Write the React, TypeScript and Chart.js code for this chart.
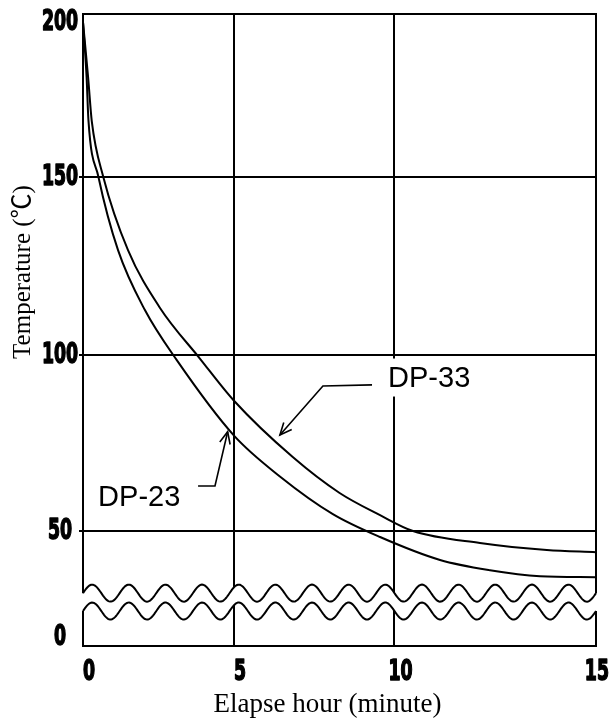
import React, { useEffect, useRef } from 'react';
import { Chart, registerables, LinearScale } from 'chart.js';

// ---- data ----
const X_TICKS = [0, 5, 10, 15];
const Y_TICKS = [0, 50, 100, 150, 200];

const DP33_X = [0, 0.17, 0.29, 0.67, 1.49, 2.55, 3.87, 5, 6.83, 8.29, 9.55, 10.46, 12.12, 13.78, 15];
const DP33_Y = [200, 182, 168, 150, 129.4, 113.2, 99.0, 87.0, 71.0, 60.8, 54.5, 50, 46.6, 44.6, 44.0];

const DP23_X = [0, 0.12, 0.18, 0.51, 1.16, 2.05, 3.1, 5, 6.43, 8.08, 9.55, 11.13, 12.37, 13.61, 15];
const DP23_Y = [200, 182, 168.3, 150, 129.4, 112.6, 98.6, 77.1, 65.5, 54.8, 48.3, 41.8, 38.9, 37.2, 36.9];

const X_TITLE = 'Elapse hour (minute)';
const Y_TITLE = 'Temperature (℃)';

// ---- scale shape (value -> fraction of axis length); the original drawing is not evenly spaced ----
const BREAKS: Record<string, number[][]> = {
  x: [[0, 0], [5, 0.29435], [10, 0.6072], [15, 1]],
  y: [[-3, 0], [0, 0.01424], [30, 0.07025], [50, 0.18196], [100, 0.46044], [150, 0.74256], [200, 0.98734], [202, 1]],
};

function toFrac(b: number[][], v: number) {
  if (v <= b[0][0]) return b[0][1] + (v - b[0][0]) * (b[1][1] - b[0][1]) / (b[1][0] - b[0][0]);
  for (let i = 1; i < b.length; i++) {
    if (v <= b[i][0]) {
      const t = (v - b[i - 1][0]) / (b[i][0] - b[i - 1][0]);
      return b[i - 1][1] + t * (b[i][1] - b[i - 1][1]);
    }
  }
  const n = b.length - 1;
  return b[n][1] + (v - b[n][0]) * (b[n][1] - b[n - 1][1]) / (b[n][0] - b[n - 1][0]);
}
function fromFrac(b: number[][], f: number) {
  for (let i = 1; i < b.length; i++) {
    if (f <= b[i][1] || i === b.length - 1) {
      const t = (f - b[i - 1][1]) / (b[i][1] - b[i - 1][1]);
      return b[i - 1][0] + t * (b[i][0] - b[i - 1][0]);
    }
  }
  return b[0][0];
}

class PiecewiseScale extends LinearScale {
  static id = 'piecewise';
  getPixelForValue(value: any) {
    if (value === null || value === undefined || isNaN(value)) return NaN;
    return (this as any).getPixelForDecimal(toFrac(BREAKS[(this as any).axis], value));
  }
  getValueForPixel(pixel: number) {
    return fromFrac(BREAKS[(this as any).axis], (this as any).getDecimalForPixel(pixel));
  }
}

Chart.register(...registerables, PiecewiseScale as any);

// ---- decorations ----
const WAVE_VALUES = [32.4, 22];
const WAVE_PERIODS = 14;
const WAVE_AMP = 8.5;

const LABELS = [
  { text: 'DP-33', at: [9.8, 93.6], leader: [[9.3, 91.5], [7.77, 91.2], [6.43, 77.3]], box: true },
  { text: 'DP-23', at: [0.5, 59.66], leader: [[3.81, 62.8], [4.37, 62.8], [4.79, 78.2]], box: false },
];

const LABEL_FONT = '29px "Liberation Sans", Arial, sans-serif';
const TITLE_FONT_X = '27px "Liberation Serif", "Noto Sans CJK JP", serif';
const TITLE_FONT_Y = '25px "Liberation Serif", "Noto Sans CJK JP", serif';
const TICK_FONT = 'bold 28px "DejaVu Sans", sans-serif';
const TICK_SQUEEZE = 0.62;

function drawArrow(ctx: CanvasRenderingContext2D, pts: number[][]) {
  ctx.beginPath();
  ctx.moveTo(pts[0][0], pts[0][1]);
  for (let i = 1; i < pts.length; i++) ctx.lineTo(pts[i][0], pts[i][1]);
  ctx.stroke();
  const [px, py] = pts[pts.length - 2];
  const [tx, ty] = pts[pts.length - 1];
  const ang = Math.atan2(ty - py, tx - px);
  const L = 13, s = 0.42;
  ctx.beginPath();
  ctx.moveTo(tx - L * Math.cos(ang - s), ty - L * Math.sin(ang - s));
  ctx.lineTo(tx, ty);
  ctx.lineTo(tx - L * Math.cos(ang + s), ty - L * Math.sin(ang + s));
  ctx.stroke();
}

function squeezedText(ctx: CanvasRenderingContext2D, text: string, x: number, y: number) {
  ctx.save();
  ctx.translate(x, y);
  ctx.scale(TICK_SQUEEZE, 1);
  ctx.lineWidth = 1.6;
  ctx.strokeStyle = '#000';
  ctx.lineJoin = 'round';
  ctx.strokeText(text, 0, 0);
  ctx.fillText(text, 0, 0);
  ctx.restore();
}

const decorPlugin = {
  id: 'decor',
  afterDatasetsDraw(chart: any) {
    const { ctx, chartArea: a, scales } = chart;
    const xs = scales.x, ys = scales.y;
    ctx.save();
    ctx.strokeStyle = '#000';
    ctx.lineWidth = 2;
    // top frame line
    ctx.beginPath();
    ctx.moveTo(a.left - 1, a.top);
    ctx.lineTo(a.right + 1, a.top);
    ctx.stroke();

    // axis break waves
    const cU = ys.getPixelForValue(WAVE_VALUES[0]);
    const cL = ys.getPixelForValue(WAVE_VALUES[1]);
    const period = (a.right - a.left) / WAVE_PERIODS;
    const w = (x: number, c: number) => c - WAVE_AMP * Math.sin((2 * Math.PI * (x - a.left)) / period);
    ctx.fillStyle = '#fff';
    ctx.beginPath();
    ctx.moveTo(a.left - 2, w(a.left, cU));
    for (let x = a.left; x <= a.right; x += 1) ctx.lineTo(x, w(x, cU));
    ctx.lineTo(a.right + 2, w(a.right, cU));
    ctx.lineTo(a.right + 2, w(a.right, cL));
    for (let x = a.right; x >= a.left; x -= 1) ctx.lineTo(x, w(x, cL));
    ctx.lineTo(a.left - 2, w(a.left, cL));
    ctx.closePath();
    ctx.fill();
    for (const c of [cU, cL]) {
      ctx.beginPath();
      for (let x = a.left; x <= a.right; x += 1) {
        if (x === a.left) ctx.moveTo(x, w(x, c));
        else ctx.lineTo(x, w(x, c));
      }
      ctx.stroke();
    }

    // labels with leader arrows
    ctx.font = LABEL_FONT;
    ctx.textBaseline = 'middle';
    ctx.textAlign = 'left';
    ctx.lineWidth = 1.6;
    for (const l of LABELS) {
      const x = xs.getPixelForValue(l.at[0]);
      const y = ys.getPixelForValue(l.at[1]);
      if (l.box) {
        const tw = ctx.measureText(l.text).width;
        ctx.fillStyle = '#fff';
        ctx.fillRect(x - 3, y - 19, tw + 6, 38);
      }
      ctx.fillStyle = '#000';
      ctx.fillText(l.text, x, y + 1);
      drawArrow(ctx, l.leader.map((p) => [xs.getPixelForValue(p[0]), ys.getPixelForValue(p[1])]));
    }

    // tick labels (heavy condensed)
    ctx.fillStyle = '#000';
    ctx.font = TICK_FONT;
    ctx.textAlign = 'center';
    ctx.textBaseline = 'middle';
    for (const t of ys.ticks) {
      squeezedText(ctx, String(t.value), 60, ys.getPixelForValue(t.value) + 1);
    }
    for (const t of xs.ticks) {
      const s = String(t.value);
      const half = (ctx.measureText(s).width * TICK_SQUEEZE) / 2;
      const px = Math.min(xs.getPixelForValue(t.value) + 6, chart.width - 5 - half);
      squeezedText(ctx, s, px, 673);
    }

    // axis titles
    ctx.textAlign = 'center';
    ctx.textBaseline = 'alphabetic';
    ctx.font = TITLE_FONT_X;
    ctx.fillText(X_TITLE, 327.5, 712);
    ctx.save();
    ctx.translate(30, 272);
    ctx.rotate(-Math.PI / 2);
    ctx.font = TITLE_FONT_Y;
    ctx.fillText(Y_TITLE, 0, 0);
    ctx.restore();
    ctx.restore();
  },
};

export default function App() {
  const ref = useRef<HTMLCanvasElement>(null);
  useEffect(() => {
    const chart = new Chart(ref.current as HTMLCanvasElement, {
      type: 'line',
      data: {
        datasets: [
          {
            label: 'DP-33',
            data: DP33_X.map((x, i) => ({ x, y: DP33_Y[i] })),
            borderColor: '#000',
            borderWidth: 2,
            pointRadius: 0,
            cubicInterpolationMode: 'monotone',
            fill: false,
          },
          {
            label: 'DP-23',
            data: DP23_X.map((x, i) => ({ x, y: DP23_Y[i] })),
            borderColor: '#000',
            borderWidth: 2,
            pointRadius: 0,
            cubicInterpolationMode: 'monotone',
            fill: false,
          },
        ],
      },
      options: {
        responsive: false,
        maintainAspectRatio: false,
        animation: false,
        devicePixelRatio: 1,
        layout: { padding: { left: 0, right: 18, top: 14, bottom: 0 } },
        plugins: { legend: { display: false }, tooltip: { enabled: false }, title: { display: false } },
        scales: {
          x: {
            type: 'piecewise' as any,
            position: 'bottom',
            min: 0,
            max: 15,
            afterBuildTicks: (s: any) => { s.ticks = X_TICKS.map((v) => ({ value: v })); },
            afterFit: (s: any) => { s.height = 76; s.paddingLeft = 0; s.paddingRight = 0; },
            grid: { color: '#000', lineWidth: 2, drawTicks: false },
            border: { display: true, color: '#000', width: 2 },
            ticks: { display: false, autoSkip: false },
          },
          y: {
            type: 'piecewise' as any,
            position: 'left',
            min: -3,
            max: 202,
            afterBuildTicks: (s: any) => { s.ticks = Y_TICKS.map((v) => ({ value: v })); },
            afterFit: (s: any) => { s.width = 83; s.paddingTop = 0; s.paddingBottom = 0; },
            grid: {
              color: (c: any) => (c.tick && (c.tick.value === 0 || c.tick.value === 200) ? 'rgba(0,0,0,0)' : '#000'),
              lineWidth: 2,
              drawTicks: true,
              tickLength: 4,
            },
            border: { display: true, color: '#000', width: 2 },
            ticks: { display: false, autoSkip: false },
          },
        },
      },
      plugins: [decorPlugin],
    } as any);
    return () => chart.destroy();
  }, []);
  return (
    <div style={{ position: 'absolute', left: 0, top: 0, width: 614, height: 722, background: '#fff' }}>
      <canvas ref={ref} width={614} height={722} style={{ display: 'block', width: 614, height: 722 }} />
    </div>
  );
}
